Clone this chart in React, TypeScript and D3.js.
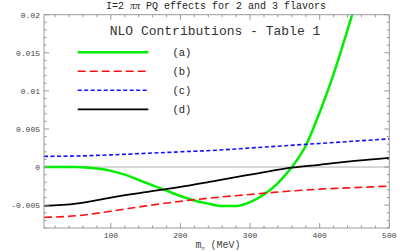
import React from "react";
import * as d3 from "d3";

// pion mass grid (MeV) for curves (b), (c), (d)
const massGrid = [4, 50, 100, 150, 200, 250, 300, 350, 400, 450, 500];
const curveB = [-0.0066, -0.0064, -0.0058, -0.0051, -0.0045, -0.004, -0.0036, -0.0032, -0.0029, -0.0027, -0.0025];
const curveC = [0.0014, 0.00145, 0.0016, 0.0018, 0.002, 0.0022, 0.0025, 0.0028, 0.0031, 0.0034, 0.0037];
const curveD = [-0.0051, -0.0048, -0.004, -0.0033, -0.0026, -0.0018, -0.001, -0.0002, 0.0003, 0.0008, 0.0012];

// curve (a) has its own grid since it shoots up past the frame
const massA = [4, 50, 80, 100, 120, 140, 160, 180, 200, 220, 240, 260, 280, 300, 320, 340, 360, 380, 400, 420, 440, 460];
const curveA = [0, 0, -0.0002, -0.0005, -0.001, -0.0017, -0.0024, -0.0031, -0.0038, -0.0044, -0.0048, -0.0051, -0.0051, -0.0046, -0.0036, -0.0021, 0, 0.0028, 0.0072, 0.0122, 0.018, 0.024];

const xTicks = [100, 200, 300, 400, 500];
const yTicks = [-0.005, 0, 0.005, 0.01, 0.015, 0.02];
const yTickLabels = ["-0.005", "0", "0.005", "0.01", "0.015", "0.02"];

const legend = [
  { label: "(a)", color: "#00ee00", width: 2.5, dash: "" },
  { label: "(b)", color: "#ff1010", width: 1.6, dash: "8,4" },
  { label: "(c)", color: "#1010ff", width: 1.6, dash: "4,2.5" },
  { label: "(d)", color: "#000000", width: 1.8, dash: "" },
];

const W = 407;
const H = 252;
const left = 44, right = 389.3, top = 14.7, bottom = 228;

export default function App() {
  const x = d3.scaleLinear().domain([4, 500]).range([left, right]);
  const y = d3.scaleLinear().domain([-0.008, 0.02]).range([bottom, top]);

  const line = d3
    .line<[number, number]>()
    .x((d) => x(d[0]))
    .y((d) => y(d[1]))
    .curve(d3.curveMonotoneX);

  const series = [
    { data: massA.map((m, i) => [m, curveA[i]] as [number, number]), ...legend[0] },
    { data: massGrid.map((m, i) => [m, curveB[i]] as [number, number]), ...legend[1] },
    { data: massGrid.map((m, i) => [m, curveC[i]] as [number, number]), ...legend[2] },
    { data: massGrid.map((m, i) => [m, curveD[i]] as [number, number]), ...legend[3] },
  ];

  const xMinor = d3.range(20, 501, 20).filter((v) => v % 100 !== 0);
  const yMinor = d3.range(-0.008, 0.0201, 0.001).filter((v) => Math.abs(Math.round(v * 1000) % 5) !== 0);

  const frame = "#999";
  const mono = "'Liberation Mono', 'DejaVu Sans Mono', monospace";

  return (
    <svg width={W} height={H} style={{ position: "absolute", left: 0, top: 0, background: "#fff" }}>
      <defs>
        <clipPath id="plotclip">
          <rect x={left} y={top} width={right - left} height={bottom - top} />
        </clipPath>
      </defs>

      {/* title */}
      <text x={216} y={9} textAnchor="middle" fontFamily={mono} fontSize={10} fill="#222">
        I=2 <tspan fontFamily="'Liberation Serif', serif" fontStyle="italic">ππ</tspan> PQ effects for 2 and 3 flavors
      </text>

      {/* zero line */}
      <line x1={left} x2={right} y1={y(0)} y2={y(0)} stroke="#b0b0b0" strokeWidth={1} />

      {/* curves */}
      <g clipPath="url(#plotclip)">
        {series.map((s) => (
          <path
            key={s.label}
            d={line(s.data) || ""}
            fill="none"
            stroke={s.color}
            strokeWidth={s.width}
            strokeDasharray={s.dash}
          />
        ))}
      </g>

      {/* frame */}
      <rect x={left} y={top} width={right - left} height={bottom - top} fill="none" stroke={frame} strokeWidth={1} />

      {/* x ticks */}
      {xTicks.map((t) => (
        <g key={"xt" + t}>
          <line x1={x(t)} x2={x(t)} y1={bottom} y2={bottom - 5} stroke={frame} />
          <line x1={x(t)} x2={x(t)} y1={top} y2={top + 5} stroke={frame} />
          <text x={x(t)} y={bottom + 10} textAnchor="middle" fontFamily={mono} fontSize={8} fill="#444">
            {t}
          </text>
        </g>
      ))}
      {xMinor.map((t) => (
        <g key={"xm" + t}>
          <line x1={x(t)} x2={x(t)} y1={bottom} y2={bottom - 2.5} stroke={frame} />
          <line x1={x(t)} x2={x(t)} y1={top} y2={top + 2.5} stroke={frame} />
        </g>
      ))}

      {/* y ticks */}
      {yTicks.map((t, i) => (
        <g key={"yt" + t}>
          <line x1={left} x2={left + 5} y1={y(t)} y2={y(t)} stroke={frame} />
          <line x1={right} x2={right - 5} y1={y(t)} y2={y(t)} stroke={frame} />
          <text x={left - 4} y={y(t) + 3} textAnchor="end" fontFamily={mono} fontSize={8} fill="#444">
            {yTickLabels[i]}
          </text>
        </g>
      ))}
      {yMinor.map((t) => (
        <g key={"ym" + t}>
          <line x1={left} x2={left + 2.5} y1={y(t)} y2={y(t)} stroke={frame} />
          <line x1={right} x2={right - 2.5} y1={y(t)} y2={y(t)} stroke={frame} />
        </g>
      ))}

      {/* x axis label */}
      <text x={218} y={248} textAnchor="middle" fontFamily={mono} fontSize={10} fill="#444">
        m<tspan fontSize={6} dy={2} fontFamily="'Liberation Serif', serif" fontStyle="italic">π</tspan>
        <tspan dy={-2}>{"   (MeV)"}</tspan>
      </text>

      {/* legend */}
      <text x={215} y={35} textAnchor="middle" fontFamily={mono} fontSize={13} fill="#333">
        NLO Contributions - Table 1
      </text>
      {legend.map((l, i) => {
        const ly = 52.3 + i * 19;
        return (
          <g key={"lg" + l.label}>
            <line x1={77.7} x2={148.3} y1={ly} y2={ly} stroke={l.color} strokeWidth={l.width} strokeDasharray={l.dash} />
            <text x={172.5} y={ly + 3.5} fontFamily={mono} fontSize={10.5} fill="#222">
              {l.label}
            </text>
          </g>
        );
      })}
    </svg>
  );
}
